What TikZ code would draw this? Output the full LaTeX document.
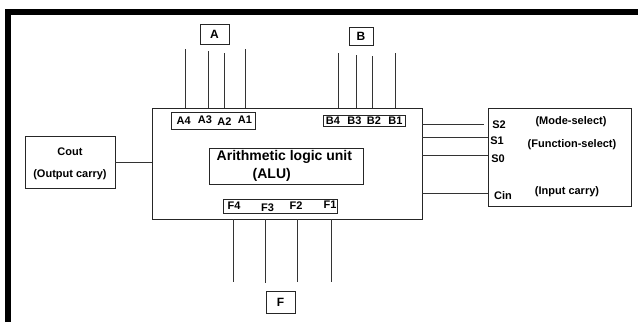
\documentclass[tikz,border=0pt]{standalone}
\usepackage{fontspec}
\setmainfont{Liberation Sans}
\begin{document}
\begin{tikzpicture}[x=1pt,y=-1pt,
  box/.style={draw=black!85, line width=0.9pt, inner sep=0pt, anchor=center},
  lbl/.style={font=\bfseries\fontsize{11}{13}\selectfont, inner sep=0pt, anchor=center},
  biglbl/.style={font=\bfseries\fontsize{14}{16}\selectfont, inner sep=0pt, anchor=west},
  buslbl/.style={font=\bfseries\fontsize{12}{14}\selectfont},
  wire/.style={draw=black!80, line width=0.8pt},
  frameline/.style={line width=5.5pt}]
\useasboundingbox (0,0) rectangle (638,322);
\fill[white] (0,0) rectangle (638,322);

% heavy frame along the top and left edges
\coordinate (fbl) at (8,322);
\coordinate (ftr) at (638,12);
\draw[frameline] (fbl) -- (8,12) -- (ftr);

% main blocks
\node[box, minimum width=270, minimum height=111] (alu) at (287,163.5) {};
\node[box, minimum width=143, minimum height=98] (sel) at (559.5,157) {};
\node[box, minimum width=90, minimum height=52] (cout) at (70,162) {};
\node[box, minimum width=154, minimum height=36] (core) at (286,166) {};

% bus name boxes
\node[box, minimum width=29, minimum height=20, buslbl] (busA) at (214.5,34) {A};
\node[box, minimum width=24, minimum height=18, buslbl] (busB) at (361,36) {B};
\node[box, minimum width=29, minimum height=22, buslbl] (busF) at (280.5,302) {F};

% pin label strips
\node[box, minimum width=84, minimum height=17] (pinsA) at (213.7,120.5) {};
\node[box, minimum width=82, minimum height=11] (pinsB) at (364,120.8) {};
\node[box, minimum width=114, minimum height=14] (pinsF) at (280,206) {};

% pin labels
\node[lbl] (a4) at (183.7,120.5) {A4};
\node[lbl] (a3) at (205,119.8) {A3};
\node[lbl] (a2) at (224.5,122) {A2};
\node[lbl] (a1) at (245,119.8) {A1};
\node[lbl] (b4) at (333,120.5) {B4};
\node[lbl] (b3) at (354.5,120.5) {B3};
\node[lbl] (b2) at (374,120.5) {B2};
\node[lbl] (b1) at (395.5,120.5) {B1};
\node[lbl] (f4) at (234,206) {F4};
\node[lbl] (f3) at (267.5,208) {F3};
\node[lbl] (f2) at (296,206) {F2};
\node[lbl] (f1) at (330,205) {F1};

% ALU title
\node[biglbl] (t1) at (216.5,157) {Arithmetic logic unit};
\node[biglbl] (t2) at (252.5,174.5) {(ALU)};

% carry-out block text
\node[lbl] (co1) at (70,152) {Cout};
\node[lbl] (co2) at (70,174.5) {(Output carry)};

% select / carry-in block text
\node[lbl] (s2) at (499,125) {S2};
\node[lbl] (s1) at (497,141) {S1};
\node[lbl] (s0) at (498,159) {S0};
\node[lbl] (cin) at (503,196) {Cin};
\node[lbl] (m1) at (571,122) {(Mode-select)};
\node[lbl] (m2) at (572,144.5) {(Function-select)};
\node[lbl] (m3) at (567,191.5) {(Input carry)};

% input bus A lines
\coordinate (ia4) at (185.7,49);
\coordinate (ia3) at (208,51);
\coordinate (ia2) at (224,53);
\coordinate (ia1) at (245.7,49);
\foreach \p in {ia4,ia3,ia2,ia1} \draw[wire] (\p) -- (\p |- alu.north);

% input bus B lines
\coordinate (ib4) at (338,53.3);
\coordinate (ib3) at (356.7,55);
\coordinate (ib2) at (372.7,56);
\coordinate (ib1) at (395.3,53.3);
\foreach \p in {ib4,ib3,ib2,ib1} \draw[wire] (\p) -- (\p |- alu.north);

% output bus F lines
\coordinate (of4) at (233.3,282);
\coordinate (of3) at (265.7,283);
\coordinate (of2) at (297.3,282);
\coordinate (of1) at (331.3,282);
\foreach \p in {of4,of3,of2,of1} \draw[wire] (\p |- alu.south) -- (\p);

% control and carry connections
\coordinate (ys2) at (0,124);
\coordinate (ys1) at (0,137.7);
\coordinate (ys0) at (0,155);
\coordinate (ycin) at (0,193.7);
\coordinate (ycout) at (0,162.7);
\draw[wire] (alu.east |- ys2) -- (484,124);
\draw[wire] (alu.east |- ys1) -- (sel.west |- ys1);
\draw[wire] (alu.east |- ys0) -- (sel.west |- ys0);
\draw[wire] (alu.east |- ycin) -- (sel.west |- ycin);
\draw[wire] (cout.east |- ycout) -- (alu.west |- ycout);
\end{tikzpicture}
\end{document}
